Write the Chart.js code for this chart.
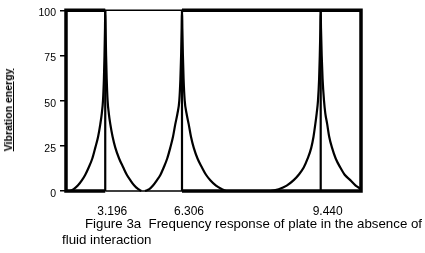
<!DOCTYPE html>
<html>
<head>
<meta charset="utf-8">
<script src="https://cdn.jsdelivr.net/npm/chart.js@4/dist/chart.umd.min.js"></script>
<style>
  body { margin: 0; background: #fff; }
  #wrap { position: relative; width: 425px; height: 253px; overflow: hidden; }
  #ytitle {
    position: absolute; left: 8px; top: 110px;
    transform: translate(-50%, -50%) rotate(-90deg);
    font: bold 10.5px "Liberation Sans", Arial, sans-serif;
    text-decoration: underline; white-space: nowrap; color: #000;
  }
  #caption {
    position: absolute; left: 62px; top: 216px;
    font: 13.3px "Liberation Sans", Arial, sans-serif;
    line-height: 16px; color: #000; white-space: nowrap;
  }
</style>
</head>
<body>
<div id="wrap">
  <canvas id="chart" width="425" height="253"></canvas>
  <div id="ytitle">Vibration energy</div>
  <div id="caption"><span style="padding-left:23px">Figure 3a&nbsp; Frequency response of plate in the absence of</span><br>fluid interaction</div>
</div>
<script>
// schematic x position (0..100 across the plot), peaks drawn at these positions
const peakPos = [13.3, 39.32, 86.34];
const freqLabels = ["3.196", "6.306", "9.440"];
const yTicks = [0, 25, 50, 75, 100];
const xMax = 100;

// energy levels shared by every peak, left tail -> top -> right tail
const levels = [0, 1, 3, 6, 9, 13, 18, 24, 30, 37, 43, 50, 62, 75, 90, 100,
                90, 75, 62, 50, 43, 37, 30, 24, 18, 13, 9, 6, 3, 1, 0];
const peak1X = [1.46, 2.61, 4.0, 5.42, 6.54, 7.69, 8.92, 9.93, 10.88, 11.63, 12.14, 12.54, 12.85, 13.05, 13.22, 13.3,
                13.42, 13.59, 13.8, 14.1, 14.51, 15.02, 15.8, 16.71, 18.0, 19.42, 20.61, 21.8, 23.15, 24.51, 25.53];
const peak2X = [26.78, 28.24, 29.49, 30.85, 32.03, 33.12, 34.31, 35.36, 36.27, 37.05, 37.8, 38.41, 38.78, 39.02, 39.22, 39.32,
                39.42, 39.63, 39.86, 40.24, 40.85, 41.59, 42.37, 43.29, 44.58, 46.1, 47.46, 48.92, 50.85, 52.88, 54.24];
const peak3X = [69.39, 72.1, 74.81, 77.19, 78.88, 80.58, 81.93, 83.15, 83.9, 84.51, 84.98, 85.42, 85.8, 86.03, 86.24, 86.34,
                86.44, 86.68, 86.98, 87.46, 87.9, 88.54, 89.22, 90.17, 91.42, 92.98, 94.47, 96.37, 98.2, 99.76, 100];

function pts(xs, ys) {
  return xs.map((x, i) => ({ x, y: ys[i] }));
}

function lineSet(data, width, extra) {
  return Object.assign({
    data,
    borderColor: "#000",
    borderWidth: width,
    pointRadius: 0,
    fill: false,
    clip: false,
    spanGaps: false
  }, extra || {});
}

const yTop = yTicks[yTicks.length - 1];
const [p1, p2, p3] = peakPos;

const datasets = [
  lineSet([{ x: p1, y: 0 }, { x: 0, y: 0 }, { x: 0, y: yTop }, { x: p1, y: yTop }], 3.5),
  lineSet([{ x: p2, y: yTop }, { x: xMax, y: yTop }, { x: xMax, y: 0 }, { x: p2, y: 0 }], 3.5),
  lineSet([{ x: p1, y: 0 }, { x: p2, y: 0 }, { x: p2, y: null }, { x: p1, y: yTop }, { x: p2, y: yTop }], 1.5),
  lineSet([{ x: p1, y: 0 }, { x: p1, y: yTop }, { x: p1, y: null },
           { x: p2, y: 0 }, { x: p2, y: yTop }, { x: p2, y: null },
           { x: p3, y: 0 }, { x: p3, y: yTop }], 2.2),
  lineSet(pts(peak1X, levels), 2.2, { cubicInterpolationMode: "monotone" }),
  lineSet(pts(peak2X, levels), 2.2, { cubicInterpolationMode: "monotone" }),
  lineSet(pts(peak3X, levels), 2.2, { cubicInterpolationMode: "monotone" })
];

new Chart(document.getElementById("chart"), {
  type: "line",
  data: { datasets },
  options: {
    responsive: false,
    animation: false,
    layout: { padding: { left: 20, top: 7, right: 64, bottom: 22 } },
    plugins: { legend: { display: false }, tooltip: { enabled: false } },
    scales: {
      x: {
        type: "linear",
        min: 0,
        max: xMax,
        grid: { display: false, drawTicks: false },
        border: { display: false },
        afterBuildTicks: (s) => { s.ticks = peakPos.map((v) => ({ value: v })); },
        afterFit: (s) => { s.height = 40; },
        ticks: {
          autoSkip: false,
          maxRotation: 0,
          padding: 13,
          labelOffset: 7,
          color: "#000",
          font: { family: "Liberation Sans", size: 12 },
          callback: (v, i) => freqLabels[i]
        }
      },
      y: {
        min: 0,
        max: yTop,
        grid: { drawOnChartArea: false, drawTicks: true, tickLength: 6, color: "#000", lineWidth: 1.5 },
        border: { display: false },
        afterBuildTicks: (s) => { s.ticks = yTicks.map((v) => ({ value: v })); },
        afterFit: (s) => { s.width = 46; },
        ticks: {
          padding: 4,
          labelOffset: 3,
          color: "#000",
          font: { family: "Liberation Sans", size: 10.5 }
        }
      }
    }
  }
});
</script>
</body>
</html>
